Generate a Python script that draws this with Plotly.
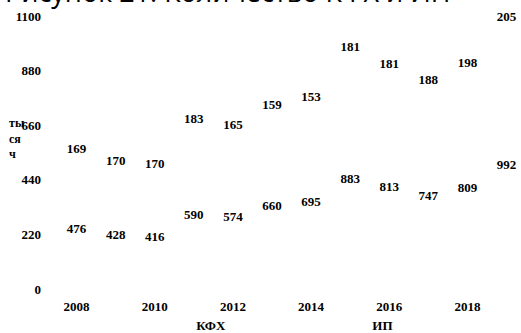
import plotly.graph_objects as go

years = [2008, 2009, 2010, 2011, 2012, 2013, 2014, 2015, 2016, 2017, 2018, 2019]
kfh = [476, 428, 416, 590, 574, 660, 695, 883, 813, 747, 809, 992]
ip = [169, 170, 170, 183, 165, 159, 153, 181, 181, 188, 198, 205]
y_ticks = [0, 220, 440, 660, 880, 1100]
x_ticks = [2008, 2010, 2012, 2014, 2016, 2018]

serif = "Liberation Serif"
lab_font = dict(family=serif, size=13, color="black", weight="bold")

fig = go.Figure()
# invisible stacked bars (as in the reference only labels are visible)
for name, vals in (("КФХ", kfh), ("ИП", ip)):
    fig.add_trace(go.Bar(x=years, y=vals, name=name,
                         marker=dict(color="rgba(255,255,255,0)", line=dict(width=0))))

# value labels centred in each stacked segment
kfh_mid = [v / 2 for v in kfh]
ip_mid = [k + v / 2 for k, v in zip(kfh, ip)]
for vals, mids in ((kfh, kfh_mid), (ip, ip_mid)):
    fig.add_trace(go.Scatter(x=years, y=mids, mode="text", text=[str(v) for v in vals],
                             textposition="middle center", textfont=lab_font,
                             showlegend=False, cliponaxis=False, hoverinfo="skip"))

fig.update_layout(
    barmode="stack",
    bargap=0.2,
    width=521, height=333,
    margin=dict(l=57, r=0, t=16, b=44, autoexpand=False),
    paper_bgcolor="white", plot_bgcolor="white",
    showlegend=True,
    xaxis=dict(tickmode="array", tickvals=x_ticks, ticktext=[str(t) for t in x_ticks],
               showgrid=False, showline=False, zeroline=False, ticks="",
               tickfont=lab_font, range=[2007.5, 2019.37], automargin=False,
               ticklabelstandoff=8),
    yaxis=dict(tickmode="array", tickvals=y_ticks, ticktext=[str(t) for t in y_ticks],
               range=[0, 1100], showgrid=False, showline=False, zeroline=False, ticks="",
               tickfont=lab_font, ticklabelstandoff=15, automargin=False),
    legend=dict(orientation="h", xref="container", x=0.30, xanchor="left",
                yref="container", y=0.025, yanchor="middle", traceorder="normal",
                font=dict(family=serif, size=13, color="black", weight="bold"),
                entrywidth=131, entrywidthmode="pixels", itemwidth=30,
                bgcolor="rgba(0,0,0,0)"),
    annotations=[
        dict(text="ты<br>ся<br>ч", xref="paper", yref="paper", x=-0.107, y=0.553,
             xanchor="left", yanchor="middle", showarrow=False, align="left",
             font=dict(family=serif, size=12, color="black", weight="bold")),
        dict(text="Рисунок 21. Количество КФХ и ИП", xref="paper", yref="paper",
             x=-0.116, y=1.014, xanchor="left", yanchor="bottom", showarrow=False,
             font=dict(family="Open Sans", size=27, color="black")),
    ],
)

fig.write_html("out.html", config={"displayModeBar": False},
               post_script="document.body.style.margin='0px';")
